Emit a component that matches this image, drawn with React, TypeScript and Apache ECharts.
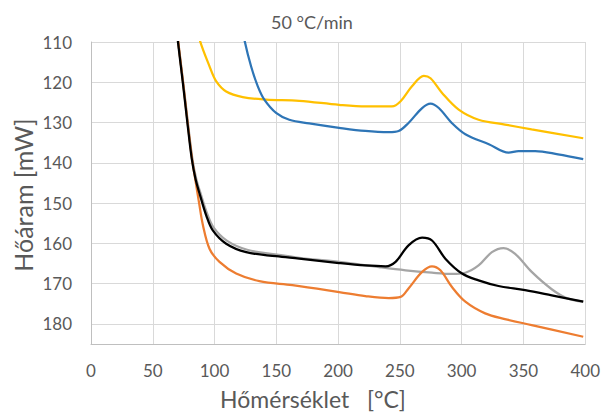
import React, { useEffect, useRef } from "react";
import * as echarts from "echarts";

const xTicks = [0, 50, 100, 150, 200, 250, 300, 350, 400];
const yTicks = [110, 120, 130, 140, 150, 160, 170, 180];

const yellowX = [86, 88, 96, 101.4, 109.4, 122.8, 141.7, 168.5, 200.8, 222.6, 243.6, 250.6, 259.8, 269.4, 274.8, 284, 297.6, 313.7, 335, 356.6, 398.4];
const yellowY = [106, 109.5, 116.1, 119.8, 122.3, 123.7, 124.3, 124.6, 125.6, 126, 126, 124.7, 121, 118.4, 119, 122.6, 126.8, 129.3, 130.5, 131.7, 133.9];

const blueX = [122.5, 124.2, 129.6, 135, 140.3, 149.8, 160.5, 176.6, 200.8, 222, 241, 249, 257, 268, 274.8, 281.5, 292, 303, 322, 338, 346, 359.5, 378, 398.4];
const blueY = [106, 109.5, 116.1, 121, 124.3, 127.6, 129.3, 130.2, 131.3, 132.1, 132.4, 132.1, 130.1, 126.4, 125.3, 126.4, 130.1, 132.9, 135.4, 137.5, 137.1, 137.1, 137.9, 139.1];

const blackX = [69.2, 70.4, 74.3, 78, 81.6, 84.6, 88.4, 93.3, 98.6, 109.4, 125.6, 149.8, 168.5, 200.8, 222, 238.5, 246.5, 257, 268, 276, 286.8, 300.3, 313.7, 329.8, 351.4, 372.9, 398.4];
const blackY = [106, 110, 120, 130, 139.1, 144, 148.2, 153.1, 156.8, 160.1, 162.2, 163.2, 163.8, 164.9, 165.5, 165.7, 164.6, 160.5, 158.6, 159.3, 163.8, 167.5, 169.2, 170.6, 171.6, 172.9, 174.5];

const grayX = [69.4, 70.6, 74.6, 78.4, 82.1, 85.2, 89.1, 94, 99.3, 110.2, 126.4, 150.5, 168.5, 200.8, 233, 254.6, 276, 292, 303, 313.7, 324.5, 333.9, 343.3, 356.7, 372.9, 385, 398.4];
const grayY = [106, 110, 120, 130, 139.1, 144, 148, 152.6, 156.1, 159.4, 161.6, 162.8, 163.6, 164.6, 165.9, 166.7, 167.3, 167.6, 167.3, 165.5, 162.2, 161.2, 162.6, 167.1, 171.4, 173.6, 174.5];

const orangeX = [69.4, 70.6, 74.5, 78.2, 81.8, 84.6, 87.5, 90.6, 96, 104, 117.5, 136.3, 163, 200.8, 222, 241, 250.6, 257, 268, 276, 282.8, 292, 303, 319, 335, 356.7, 398.4];
const orangeY = [106, 110, 120, 130, 139.1, 144.5, 150, 155.5, 161.4, 164.6, 167.5, 169.4, 170.4, 172.1, 173.1, 173.6, 173.3, 171.2, 167.1, 165.7, 166.7, 170.8, 174.5, 177.4, 178.8, 180.3, 183.2];

const seriesDefs = [
  { name: "yellow", color: "#FFC000", xs: yellowX, ys: yellowY },
  { name: "blue", color: "#2E75B6", xs: blueX, ys: blueY },
  { name: "gray", color: "#A5A5A5", xs: grayX, ys: grayY },
  { name: "orange", color: "#ED7D31", xs: orangeX, ys: orangeY },
  { name: "black", color: "#000000", xs: blackX, ys: blackY },
];

const FONT = "Lato";

export default function App() {
  const ref = useRef<HTMLDivElement>(null);
  useEffect(() => {
    if (!ref.current) return;
    const chart = echarts.init(ref.current, undefined, { renderer: "svg" });
    chart.setOption({
      animation: false,
      backgroundColor: "#ffffff",
      grid: { left: 91, right: 16, top: 42, bottom: 68, containLabel: false },
      xAxis: {
        type: "value",
        min: xTicks[0],
        max: xTicks[xTicks.length - 1],
        interval: 50,
        axisLine: { onZero: false, lineStyle: { color: "#BFBFBF", width: 1 } },
        axisTick: { show: false },
        axisLabel: { color: "#595959", fontSize: 17, fontFamily: FONT, margin: 18 },
        splitLine: { show: true, lineStyle: { color: "#D9D9D9", width: 1 } },
      },
      yAxis: {
        type: "value",
        inverse: true,
        min: 110,
        max: 185,
        interval: 10,
        axisLine: { show: true, lineStyle: { color: "#BFBFBF", width: 1 } },
        axisTick: { show: false },
        axisLabel: {
          color: "#595959",
          fontSize: 17,
          fontFamily: FONT,
          margin: 19,
          showMaxLabel: false,
          formatter: (v: number) => (yTicks.includes(v) ? String(v) : ""),
        },
        splitLine: { show: true, lineStyle: { color: "#D9D9D9", width: 1 } },
      },
      graphic: [
        {
          type: "text",
          style: { text: "50 °C/min", fill: "#595959", font: `18px ${FONT}`, x: 312, y: 22, textAlign: "center", textVerticalAlign: "middle" },
        },
        {
          type: "text",
          style: { text: "Hőmérséklet   [°C]", fill: "#595959", font: `23px ${FONT}`, x: 313, y: 399, textAlign: "center", textVerticalAlign: "middle" },
        },
        {
          type: "text",
          x: 23,
          y: 195,
          rotation: Math.PI / 2,
          style: { text: "Hőáram [mW]", fill: "#595959", font: `25px ${FONT}`, x: 0, y: 0, textAlign: "center", textVerticalAlign: "middle" },
        },
      ],
      series: seriesDefs.map((s) => ({
        type: "line",
        name: s.name,
        data: s.xs.map((x, i) => [x, s.ys[i]]),
        showSymbol: false,
        symbol: "none",
        smooth: 0.35,
        clip: true,
        lineStyle: { color: s.color, width: 2.25 },
        itemStyle: { color: s.color },
      })),
    });
    return () => chart.dispose();
  }, []);
  return <div ref={ref} style={{ width: 603, height: 412, position: "absolute", left: 0, top: 0 }} />;
}
